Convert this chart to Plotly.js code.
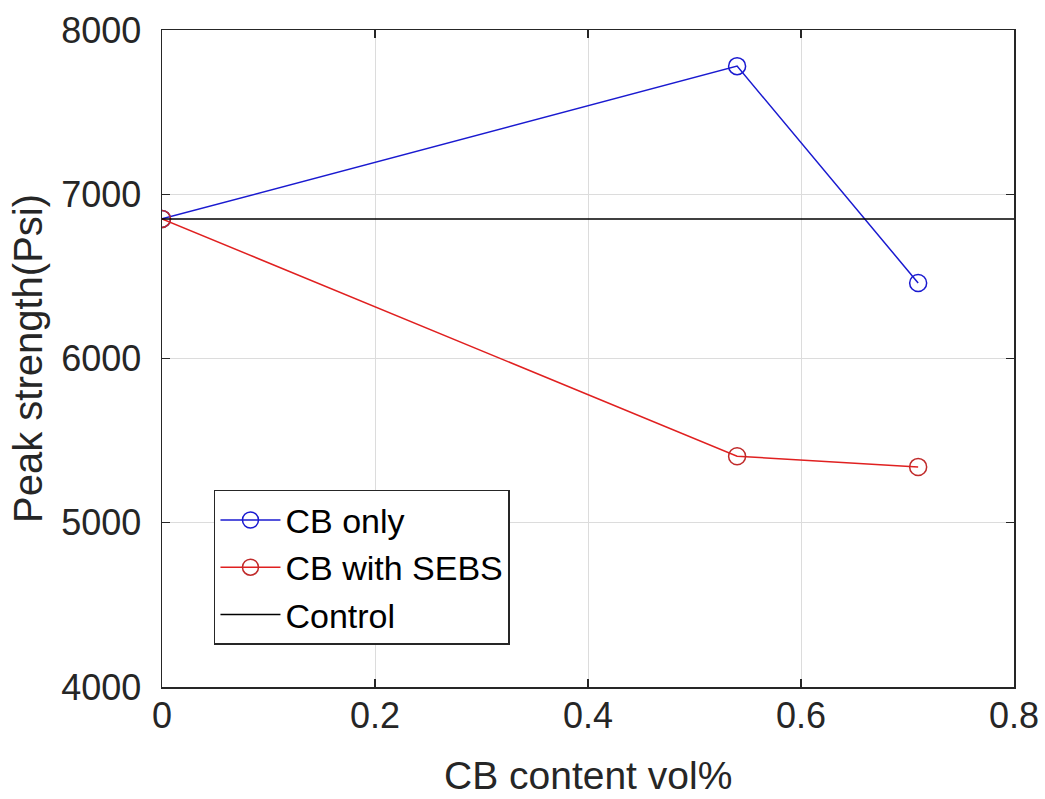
<!DOCTYPE html>
<html>
<head>
<meta charset="utf-8">
<script src="https://cdn.plot.ly/plotly-3.0.1.min.js"></script>
<style>html,body{margin:0;padding:0;background:#fff;}#chart{width:1045px;height:799px;}</style>
</head>
<body>
<div id="chart"></div>
<script>
const cbContent = [0, 0.54, 0.71];
const cbOnly = [6850, 7780, 6460];
const cbWithSEBS = [6850, 5405, 5340];
const controlX = [0, 0.8];
const controlY = [6850, 6850];
const xTicks = [0, 0.2, 0.4, 0.6, 0.8];
const xTickText = ['0', '0.2', '0.4', '0.6', '0.8'];
const yTicks = [4000, 5000, 6000, 7000, 8000];
const yTickText = ['4000', '5000', '6000', '7000', '8000'];
const xTitle = 'CB content vol%';
const yTitle = 'Peak strength(Psi)';

const font = 'Liberation Sans, Arial, Helvetica, sans-serif';

const traces = [
  {x: cbContent, y: cbOnly, name: 'CB only', type: 'scatter', mode: 'lines+markers',
   line: {color: '#1a1ad0', width: 1.5},
   marker: {symbol: 'circle-open', size: 17, color: '#1a1ad0', line: {width: 1.5}}},
  {x: cbContent, y: cbWithSEBS, name: 'CB with SEBS', type: 'scatter', mode: 'lines+markers',
   line: {color: '#e02020', width: 1.5},
   marker: {symbol: 'circle-open', size: 17, color: '#c02a2a', line: {width: 1.5}}},
  {x: controlX, y: controlY, name: 'Control', type: 'scatter', mode: 'lines',
   line: {color: '#000000', width: 1.5}}
];

const layout = {
  width: 1045, height: 799,
  paper_bgcolor: '#ffffff', plot_bgcolor: '#ffffff',
  margin: {l: 162, r: 31, t: 30, b: 112},
  font: {family: font, color: '#262626'},
  showlegend: true,
  legend: {x: 0.061, y: 0.30, xanchor: 'left', yanchor: 'top',
    bgcolor: '#ffffff', bordercolor: '#262626', borderwidth: 1.5,
    font: {family: font, size: 34, color: '#000000'},
    tracegroupgap: 0, itemwidth: 60},
  xaxis: {
    range: [0, 0.8], tickvals: xTicks, ticktext: xTickText,
    ticks: 'inside', ticklen: 8, tickwidth: 1.2, tickcolor: '#262626',
    showline: true, linecolor: '#262626', linewidth: 1.5, mirror: 'ticks',
    showgrid: true, gridcolor: '#dcdcdc', gridwidth: 1, zeroline: false,
    tickfont: {family: font, size: 36, color: '#262626'},
    ticklabelstandoff: -4,
    automargin: false
  },
  yaxis: {
    range: [4000, 8000], tickvals: yTicks, ticktext: yTickText,
    ticks: 'inside', ticklen: 8, tickwidth: 1.2, tickcolor: '#262626',
    showline: true, linecolor: '#262626', linewidth: 1.5, mirror: 'ticks',
    showgrid: true, gridcolor: '#dcdcdc', gridwidth: 1, zeroline: false,
    tickfont: {family: font, size: 36, color: '#262626'},
    ticklabelstandoff: 12,
    title: {text: yTitle, font: {family: font, size: 40, color: '#262626'}, standoff: 6},
    automargin: false
  },
  annotations: [
    {text: xTitle, xref: 'paper', yref: 'paper', x: 0.5, y: 0, xanchor: 'center', yanchor: 'top',
     yshift: -65, showarrow: false, font: {family: font, size: 39, color: '#262626'}}
  ]
};

Plotly.newPlot('chart', traces, layout, {displayModeBar: false, staticPlot: true});
</script>
</body>
</html>
